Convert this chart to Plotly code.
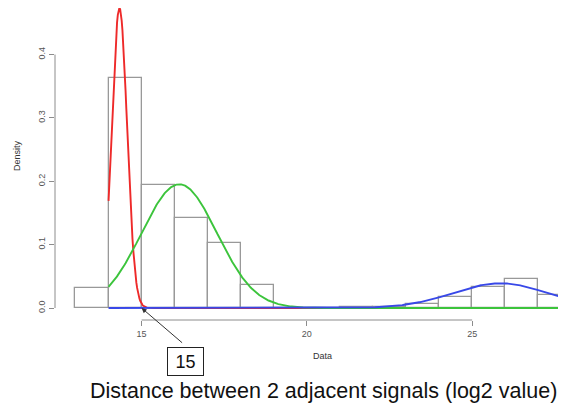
import numpy as np
import plotly.graph_objects as go

# Histogram (density), bins of width 1
bin_lefts = [13, 14, 15, 16, 17, 18, 19, 20, 21, 22, 23, 24, 25, 26, 27]
bin_density = [0.031, 0.363, 0.194, 0.142, 0.102, 0.036, 0.0, 0.0, 0.002, 0.002,
               0.007, 0.017, 0.033, 0.046, 0.020]

# Fitted mixture components: weight, mean, sd
comp_weights = [0.273, 0.558, 0.140]
comp_means = [14.33, 16.14, 25.85]
comp_sds = [0.23, 1.14, 1.43]
comp_colors = ["#ee2a2a", "#3cc43c", "#3848e8"]

curve_start, curve_end = 14, 28

x_ticks = [15, 20, 25]
y_ticks = [0.0, 0.1, 0.2, 0.3, 0.4]
y_tick_text = ["0.0", "0.1", "0.2", "0.3", "0.4"]

fig = go.Figure()

fig.add_trace(go.Bar(
    x=[b + 0.5 for b in bin_lefts], y=bin_density, width=1,
    marker=dict(color="rgba(0,0,0,0)", line=dict(color="#999999", width=1.3)),
    showlegend=False, hoverinfo="skip"))

xs = np.linspace(curve_start, curve_end, 600)
for w, m, s, c in zip(comp_weights, comp_means, comp_sds, comp_colors):
    ys = w * np.exp(-0.5 * ((xs - m) / s) ** 2) / (s * np.sqrt(2 * np.pi))
    fig.add_trace(go.Scatter(x=xs, y=ys, mode="lines",
                             line=dict(color=c, width=1.9), showlegend=False))

axis_col = "#8c8c8c"
fig.update_layout(
    width=558, height=398,
    margin=dict(l=47, r=0, t=0, b=86),
    plot_bgcolor="white", paper_bgcolor="white",
    font=dict(family="Liberation Sans, Arial, sans-serif", color="#444"),
    bargap=0,
    xaxis=dict(range=[12.38, 27.84], showgrid=False, zeroline=False, showline=False,
               tickvals=x_ticks, ticks="outside", ticklen=5, tickcolor=axis_col,
               tickfont=dict(size=9, color="#555")),
    yaxis=dict(range=[-0.0189, 0.4735], showgrid=False, zeroline=False, showline=False,
               tickvals=y_ticks, ticktext=y_tick_text, tickangle=-90,
               ticks="outside", ticklen=5, tickcolor=axis_col,
               tickfont=dict(size=9, color="#555")),
    shapes=[
        dict(type="line", xref="x", yref="paper", x0=x_ticks[0], x1=x_ticks[-1], y0=0, y1=0,
             line=dict(color=axis_col, width=1)),
        dict(type="line", xref="paper", yref="y", x0=0, x1=0, y0=y_ticks[0], y1=y_ticks[-1],
             line=dict(color=axis_col, width=1)),
    ],
    annotations=[
        dict(text="Density", xref="paper", yref="paper", x=0, y=0.5, xshift=-38, yshift=8,
             xanchor="center", yanchor="middle",
             textangle=-90, showarrow=False, font=dict(size=9, color="#333")),
        dict(text="Data", xref="paper", yref="paper", x=0.5235, y=0, yshift=-36,
             xanchor="center", yanchor="middle",
             showarrow=False, font=dict(size=9, color="#333")),
        dict(text="Distance between 2 adjacent signals (log2 value)", xref="paper", yref="paper",
             x=0.526, y=0, yshift=-71, xanchor="center", yanchor="middle", showarrow=False,
             font=dict(size=21.5, color="#111")),
        dict(text="15", xref="paper", yref="paper", x=0.2554, y=0, yshift=-41.5,
             xanchor="center", yanchor="middle",
             showarrow=False, font=dict(size=18, color="#111"),
             bordercolor="#222", borderwidth=1, borderpad=1, width=33, height=25,
             bgcolor="white"),
        dict(text="", x=15, y=0, xref="x", yref="y", ax=42, ay=36,
             showarrow=True, arrowhead=2, arrowsize=1, arrowwidth=1, arrowcolor="#333"),
    ],
)

fig.write_html("out.html")
